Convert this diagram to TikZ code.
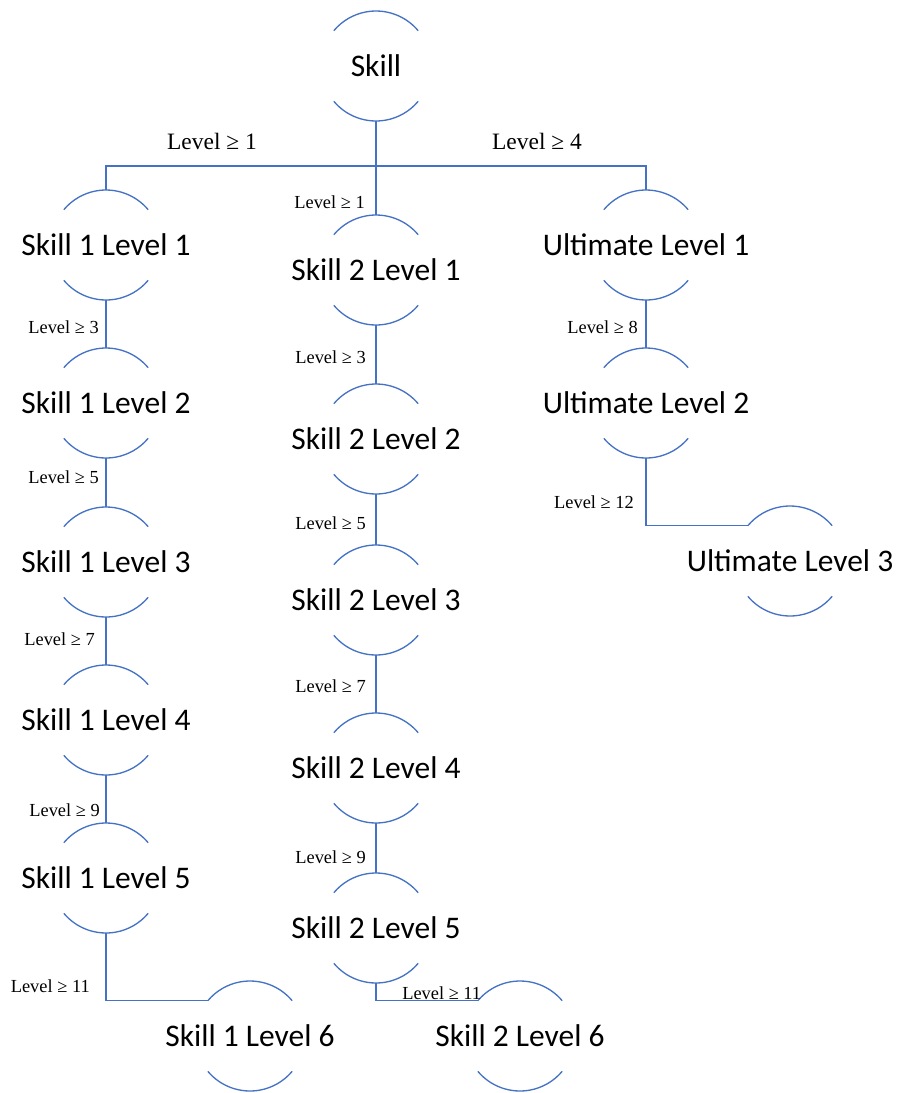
\documentclass[tikz,border=0pt]{standalone}
\usepackage{fontspec}
\setmainfont{Liberation Serif}
\newfontfamily\nodefont{Carlito}
\definecolor{linkblue}{HTML}{4472C4}
% zero-width box so the circle size does not depend on the text
\newcommand\centred[1]{\makebox[0pt][c]{#1}}

\begin{document}
\begin{tikzpicture}[x=0.75pt,y=-0.75pt,
  link/.style={draw=linkblue, line width=1pt},
  lv/.style={circle, minimum size=82.5pt, inner sep=0pt, outer sep=0pt,
             font=\nodefont\fontsize{23.6}{28}\selectfont},
  cond/.style={font=\fontsize{13.8}{16}\selectfont, inner sep=0pt},
  bigcond/.style={font=\fontsize{17.6}{20}\selectfont, inner sep=0pt}]
\useasboundingbox (0,0) rectangle (900,1093);

% skill nodes
\node[lv] (skill) at (376,66)  {\centred{Skill}};
\node[lv] (s11) at (106,245)  {\centred{Skill 1 Level 1}};
\node[lv] (s12) at (106,403)  {\centred{Skill 1 Level 2}};
\node[lv] (s13) at (106,562)  {\centred{Skill 1 Level 3}};
\node[lv] (s14) at (106,720)  {\centred{Skill 1 Level 4}};
\node[lv] (s15) at (106,878)  {\centred{Skill 1 Level 5}};
\node[lv] (s16) at (250,1036) {\centred{Skill 1 Level 6}};
\node[lv] (s21) at (376,270)  {\centred{Skill 2 Level 1}};
\node[lv] (s22) at (376,439)  {\centred{Skill 2 Level 2}};
\node[lv] (s23) at (376,600)  {\centred{Skill 2 Level 3}};
\node[lv] (s24) at (376,768)  {\centred{Skill 2 Level 4}};
\node[lv] (s25) at (376,928)  {\centred{Skill 2 Level 5}};
\node[lv] (s26) at (520,1036) {\centred{Skill 2 Level 6}};
\node[lv] (ul1) at (646,245)  {\centred{Ultimate Level 1}};
\node[lv] (ul2) at (646,403)  {\centred{Ultimate Level 2}};
\node[lv] (ul3) at (790,561)  {\centred{Ultimate Level 3}};

% upper and lower arcs of every node
\foreach \n in {skill,s11,s12,s13,s14,s15,s16,s21,s22,s23,s24,s25,s26,ul1,ul2,ul3}
  \draw[link] (\n.40) arc[start angle=40,end angle=140,radius=41.25pt]
              (\n.220) arc[start angle=220,end angle=320,radius=41.25pt];

% connectors
\coordinate (bar) at (376,166);
\draw[link] (skill.south) -- (s21.north);
\draw[link] (s11.north) |- (bar) -| (ul1.north);
\draw[link] (s11.south) -- (s12.north);
\draw[link] (s12.south) -- (s13.north);
\draw[link] (s13.south) -- (s14.north);
\draw[link] (s14.south) -- (s15.north);
\draw[link] (s15.south) |- (s16.140);
\draw[link] (s21.south) -- (s22.north);
\draw[link] (s22.south) -- (s23.north);
\draw[link] (s23.south) -- (s24.north);
\draw[link] (s24.south) -- (s25.north);
\draw[link] (s25.south) |- (s26.140);
\draw[link] (ul1.south) -- (ul2.north);
\draw[link] (ul2.south) |- (ul3.140);

% unlock conditions
\node[bigcond] (c11) at (212,141) {Level ≥ 1};
\node[bigcond] (cu1) at (537,141) {Level ≥ 4};
\node[cond, anchor=east] (c21) at (365,202) {Level ≥ 1};
\node[cond, anchor=east] (c12) at (99,327)  {Level ≥ 3};
\node[cond, anchor=east] (c13) at (99,477)  {Level ≥ 5};
\node[cond, anchor=east] (c14) at (95,639)  {Level ≥ 7};
\node[cond, anchor=east] (c15) at (100,810) {Level ≥ 9};
\node[cond, anchor=east] (c16) at (90,986)  {Level ≥ 11};
\node[cond, anchor=east] (c22) at (366,357) {Level ≥ 3};
\node[cond, anchor=east] (c23) at (366,523) {Level ≥ 5};
\node[cond, anchor=east] (c24) at (366,686) {Level ≥ 7};
\node[cond, anchor=east] (c25) at (366,857) {Level ≥ 9};
\node[cond, anchor=west] (c26) at (402,993) {Level ≥ 11};
\node[cond, anchor=east] (cu2) at (638,327) {Level ≥ 8};
\node[cond, anchor=east] (cu3) at (634,502) {Level ≥ 12};
\end{tikzpicture}
\end{document}
